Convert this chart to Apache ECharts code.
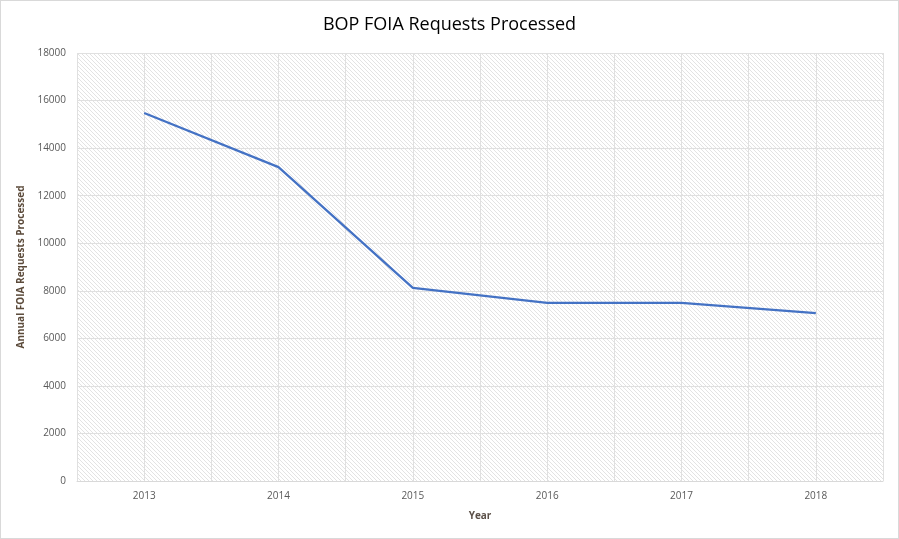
<!DOCTYPE html>
<html>
<head>
<meta charset="utf-8">
<script src="https://cdn.jsdelivr.net/npm/echarts@6/dist/echarts.min.js"></script>
<style>
html,body{margin:0;padding:0;background:#fff;}
#c{width:899px;height:539px;box-sizing:border-box;border:1px solid #d9d9d9;}
</style>
</head>
<body>
<div id="c"></div>
<script>
var categories = ['2013', '2014', '2015', '2016', '2017', '2018'];
var requestsProcessed = [15480, 13200, 8120, 7490, 7490, 7060];
var halfCategories = ['a','b','c','d','e','f','g','h','i','j','k','l'];

var pc = document.createElement('canvas');
pc.width = 4; pc.height = 4;
var ctx = pc.getContext('2d');
ctx.fillStyle = '#ffffff';
ctx.fillRect(0, 0, 4, 4);
ctx.fillStyle = '#e3e3e3';
for (var i = 0; i < 4; i++) { ctx.fillRect(i, i, 1, 1); }

var chart = echarts.init(document.getElementById('c'), null, {renderer: 'canvas'});
chart.setOption({
  animation: false,
  backgroundColor: '#ffffff',
  title: {
    text: 'BOP FOIA Requests Processed',
    left: 'center',
    top: 10,
    textStyle: {fontFamily: 'Open Sans', fontSize: 18, fontWeight: 'normal', color: '#000000'}
  },
  grid: {
    left: 76, right: 15, top: 52, bottom: 57,
    show: true,
    borderWidth: 0,
    backgroundColor: {image: pc, repeat: 'repeat'}
  },
  xAxis: [{
    type: 'category',
    data: categories,
    boundaryGap: true,
    name: 'Year',
    nameLocation: 'middle',
    nameGap: 30,
    nameTextStyle: {fontFamily: 'Open Sans', fontSize: 10, fontWeight: 'bold', color: '#5b5048'},
    axisLine: {show: true, lineStyle: {color: '#d9d9d9', width: 1}},
    axisTick: {show: false},
    axisLabel: {fontFamily: 'Open Sans', fontSize: 10, color: '#595959', margin: 10},
    splitLine: {show: false}
  }, {
    type: 'category',
    data: halfCategories,
    boundaryGap: true,
    position: 'bottom',
    axisLine: {show: false},
    axisTick: {show: false},
    axisLabel: {show: false},
    splitLine: {show: true, interval: 0, lineStyle: {color: '#e0e0e0', width: 1}}
  }],
  yAxis: {
    type: 'value',
    min: 0, max: 18000, interval: 2000,
    name: 'Annual FOIA Requests Processed',
    nameLocation: 'middle',
    nameGap: 48,
    nameTextStyle: {fontFamily: 'Open Sans', fontSize: 10, fontWeight: 'bold', color: '#5b4a3a'},
    axisLine: {show: false},
    axisTick: {show: false},
    axisLabel: {fontFamily: 'Open Sans', fontSize: 10, color: '#595959', margin: 11, formatter: function (v) { return String(v); }},
    splitLine: {show: true, lineStyle: {color: '#e0e0e0', width: 1}}
  },
  series: [{
    type: 'line',
    xAxisIndex: 0,
    data: requestsProcessed,
    symbol: 'none',
    lineStyle: {color: '#4472c4', width: 2.25},
    itemStyle: {color: '#4472c4'}
  }]
});
</script>
</body>
</html>
